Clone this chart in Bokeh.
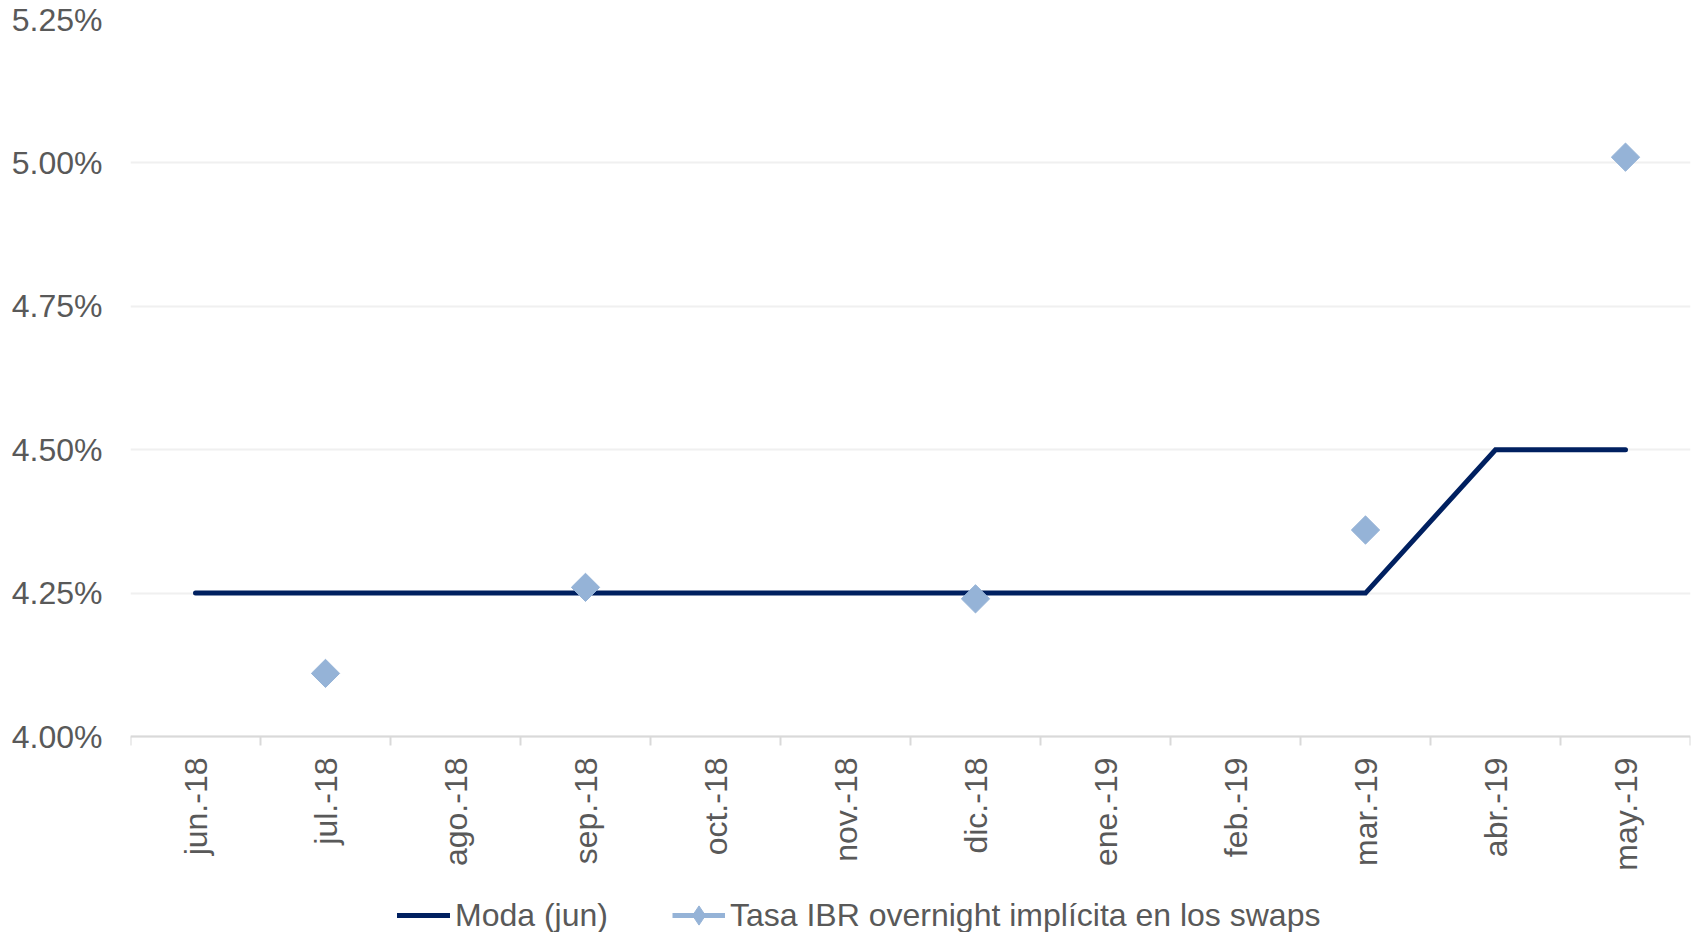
import math
from bokeh.plotting import figure
from bokeh.models import FixedTicker, Range1d, Legend, LegendItem, PrintfTickFormatter
from bokeh.embed import file_html
from bokeh.resources import INLINE

categories = ["jun.-18", "jul.-18", "ago.-18", "sep.-18", "oct.-18", "nov.-18",
              "dic.-18", "ene.-19", "feb.-19", "mar.-19", "abr.-19", "may.-19"]
moda = [4.25, 4.25, 4.25, 4.25, 4.25, 4.25, 4.25, 4.25, 4.25, 4.25, 4.50, 4.50]
swaps = [float("nan"), 4.11, float("nan"), 4.26, float("nan"), float("nan"),
         4.24, float("nan"), float("nan"), 4.36, float("nan"), 5.01]
y_ticks = [4.00, 4.25, 4.50, 4.75, 5.00, 5.25]
series_names = ["Moda (jun)", "Tasa IBR overnight implícita en los swaps"]

FONT = "Liberation Sans"
GRAY = "#595959"
NAVY = "#002060"
LIGHT = "#95B3D7"

W, H = 1696, 932
TOP, LEFT, RIGHT = 19, 130, 6
AXIS_Y = 736  # screen position of the 4.00% baseline
frame_h = H - TOP
# extend the range below the baseline so that the legend sits inside the frame
y_lo = y_ticks[-1] - (y_ticks[-1] - y_ticks[0]) * frame_h / (AXIS_Y - TOP)

x = list(range(len(categories)))

p = figure(width=W, height=H, output_backend="svg", toolbar_location=None,
           x_range=Range1d(-0.5, len(categories) - 0.5),
           y_range=Range1d(y_lo, y_ticks[-1]),
           min_border_left=LEFT, min_border_right=RIGHT, min_border_top=TOP,
           min_border_bottom=0)
p.outline_line_color = None
p.background_fill_color = "white"

r_moda = p.line(x, moda, line_color=NAVY, line_width=5, line_cap="round", line_join="miter")
r_swl = p.line(x, swaps, line_color=LIGHT, line_width=5)
r_sw = p.scatter(x, swaps, marker="square", size=20, angle=math.pi / 4,
                 fill_color=LIGHT, line_color=LIGHT)
# legend-only diamond (its single point is NaN, so nothing is drawn in the plot)
r_leg_diamond = p.scatter([float("nan")], [float("nan")], marker="diamond",
                          fill_color=LIGHT, line_color=LIGHT)

# x axis, pinned at the 4.00% baseline
xa = p.xaxis[0]
xa.fixed_location = y_ticks[0]
xa.ticker = FixedTicker(ticks=x, minor_ticks=[i - 0.5 for i in range(len(categories) + 1)])
xa.major_label_overrides = {i: c for i, c in enumerate(categories)}
xa.major_label_orientation = math.pi / 2
xa.major_tick_line_color = None
xa.major_tick_out = 0
xa.major_tick_in = 0
xa.minor_tick_line_color = "#D9D9D9"
xa.minor_tick_line_width = 2
xa.minor_tick_out = 9
xa.minor_tick_in = 0
xa.axis_line_color = "#D9D9D9"
xa.axis_line_width = 2
xa.major_label_text_font = FONT
xa.major_label_text_font_size = "32px"
xa.major_label_text_color = GRAY
xa.major_label_standoff = 12

# y axis
ya = p.yaxis[0]
ya.ticker = FixedTicker(ticks=y_ticks)
ya.formatter = PrintfTickFormatter(format="%.2f%%")
ya.axis_line_color = None
ya.major_tick_line_color = None
ya.minor_tick_line_color = None
ya.major_tick_out = 0
ya.major_label_text_font = FONT
ya.major_label_text_font_size = "32px"
ya.major_label_text_color = GRAY
ya.major_label_standoff = 28

p.xgrid.grid_line_color = None
p.ygrid.grid_line_color = "#F0F0F0"
p.ygrid.grid_line_width = 2
p.ygrid.ticker = FixedTicker(ticks=y_ticks)

legend = Legend(items=[
    LegendItem(label=series_names[0], renderers=[r_moda]),
    LegendItem(label=series_names[1], renderers=[r_swl, r_leg_diamond]),
], orientation="horizontal", location=(267, -7))
legend.label_text_font = FONT
legend.label_text_font_size = "32px"
legend.label_text_color = GRAY
legend.glyph_width = 53
legend.glyph_height = 48
legend.label_height = 48
legend.label_standoff = 5
legend.spacing = 64
legend.padding = 0
legend.margin = 0
legend.border_line_color = None
legend.background_fill_alpha = 0
p.add_layout(legend, "center")

open("out.html", "w").write(file_html(p, INLINE))
